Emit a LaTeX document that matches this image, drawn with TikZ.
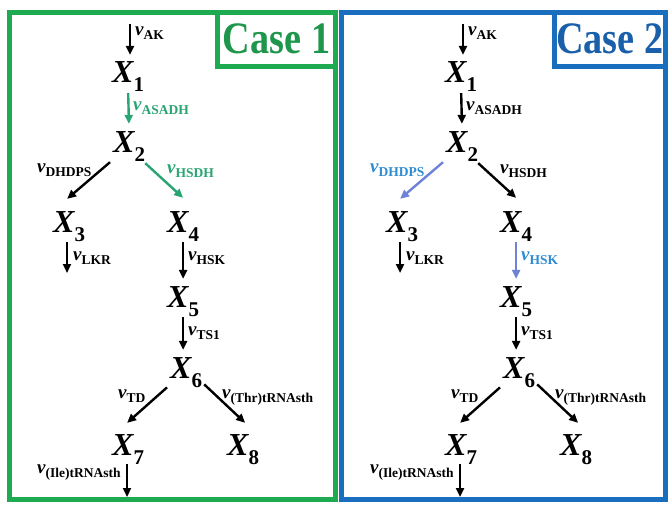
\documentclass[tikz,border=0pt]{standalone}
\usepackage{fontspec}
\setmainfont{Liberation Serif}
\usepackage{graphicx}
\usetikzlibrary{arrows.meta,calc}
\definecolor{panelgreen}{RGB}{30,170,80}
\definecolor{panelblue}{RGB}{25,110,190}
\definecolor{fluxgreen}{RGB}{40,165,115}
\definecolor{fluxblue}{RGB}{110,130,215}
\definecolor{labelblue}{RGB}{45,140,210}
\definecolor{casegreen}{RGB}{30,150,75}
\definecolor{caseblue}{RGB}{25,95,170}

\newcommand{\Xs}[1]{{\fontsize{32}{32}\selectfont\bfseries\itshape X}\raisebox{-9pt}{\fontsize{21}{21}\selectfont\bfseries #1}}
\newcommand{\vs}[1]{{\fontsize{19}{19}\selectfont\bfseries\itshape v}\raisebox{-4pt}{\fontsize{13.5}{13.5}\selectfont\bfseries #1}}

\tikzset{
  xn/.style={anchor=base west, inner sep=0pt},
  lab/.style={anchor=base west, inner sep=0pt},
  flux/.style={line width=2.4pt, -{Triangle[length=9pt,width=8pt]}},
  fASADH/.style={}, lASADH/.style={},
  fHSDH/.style={}, lHSDH/.style={},
  fDHDPS/.style={}, lDHDPS/.style={},
  fHSK/.style={}, lHSK/.style={},
  casebox/.style={line width=5pt, minimum height=54.5pt, inner sep=0pt}
}

\newcommand{\pathwaynet}{%
  \node[xn] (X1) at (112,82) {\Xs{1}};
  \node[xn] (X2) at (113,152) {\Xs{2}};
  \node[xn] (X3) at (53,232) {\Xs{3}};
  \node[xn] (X4) at (167,232) {\Xs{4}};
  \node[xn] (X5) at (167,307) {\Xs{5}};
  \node[xn] (X6) at (170,378) {\Xs{6}};
  \node[xn] (X7) at (112,455) {\Xs{7}};
  \node[xn] (X8) at (227,455) {\Xs{8}};
  \coordinate (AKin) at (130,24);
  \coordinate (LKRout) at (67,273);
  \coordinate (ILEout) at (127,497);
  \draw[flux, shorten >=6pt] (AKin) -- (AKin |- X1.north);
  \draw[flux, fASADH, shorten <=2pt, shorten >=7pt] (X1.south) -- (X2.north);
  \draw[flux, fDHDPS] ($(X2.south west)+(-3,1)$) -- ($(X3.north)+(-2,-12)$);
  \draw[flux, fHSDH] ($(X2.south east)+(0,2)$) -- ($(X4.north)+(0,-13)$);
  \draw[flux, shorten <=1pt] (LKRout |- X3.south) -- (LKRout);
  \draw[flux, fHSK, shorten <=1pt, shorten >=7pt] (X4.south) -- (X5.north);
  \draw[flux, shorten <=1pt, shorten >=7pt] (X5.south) -- (X5.south |- X6.north);
  \draw[flux] ($(X6.south west)+(-3,0)$) -- ($(X7.north)+(-1,-11)$);
  \draw[flux] ($(X6.south east)+(2,-3)$) -- ($(X8.north)+(2,-11)$);
  \draw[flux] (ILEout |- X7.south) -- (ILEout);
  \node[lab] (lAK) at (135,35) {\vs{AK}};
  \node[lab, lASADH] (lASADH) at (133,110) {\vs{ASADH}};
  \node[lab, lDHDPS] (lDHDPS) at (37,172) {\vs{DHDPS}};
  \node[lab, lHSDH] (lHSDH) at (167,173) {\vs{HSDH}};
  \node[lab] (lLKR) at (73,260) {\vs{LKR}};
  \node[lab, lHSK] (lHSK) at (188,260) {\vs{HSK}};
  \node[lab] (lTS) at (188,335) {\vs{TS1}};
  \node[lab] (lTD) at (118,398) {\vs{TD}};
  \node[lab] (lThr) at (222,398) {\vs{(Thr)tRNAsth}};
  \node[lab] (lIle) at (37,473) {\vs{(Ile)tRNAsth}};
}

\begin{document}
\begin{tikzpicture}[x=1pt,y=-1pt]
  \useasboundingbox[fill=white] (0,0) rectangle (670,504);
  \draw[panelgreen, line width=5pt] (9,12) rectangle (335.5,499);
  \draw[panelblue, line width=5pt] (341.5,12) rectangle (665,499);
  \node[casebox, draw=panelgreen, minimum width=118pt, text=casegreen] (case1) at (276.5,39.25)
    {\scalebox{0.85}[1]{\fontsize{45}{45}\selectfont\bfseries Case 1}};
  \node[casebox, draw=panelblue, minimum width=110.5pt, text=caseblue] (case2) at (609.75,39.25)
    {\scalebox{0.85}[1]{\fontsize{45}{45}\selectfont\bfseries Case 2}};
  \begin{scope}[name prefix=L-,
      fASADH/.style={draw=fluxgreen}, lASADH/.style={text=fluxgreen},
      fHSDH/.style={draw=fluxgreen}, lHSDH/.style={text=fluxgreen}]
    \pathwaynet
  \end{scope}
  \begin{scope}[shift={(333,0)}, name prefix=R-,
      fDHDPS/.style={draw=fluxblue}, lDHDPS/.style={text=labelblue},
      fHSK/.style={draw=fluxblue}, lHSK/.style={text=labelblue}]
    \pathwaynet
  \end{scope}
\end{tikzpicture}
\end{document}
